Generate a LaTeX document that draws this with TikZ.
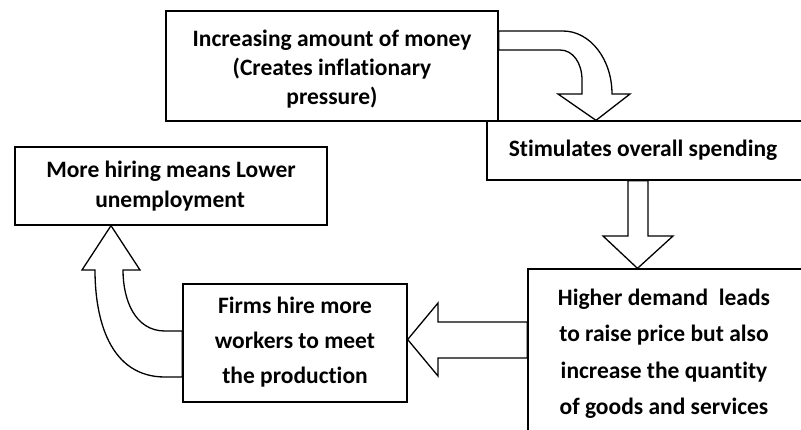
\documentclass[tikz,border=0pt]{standalone}
\usepackage{fontspec}
\setmainfont{Carlito}[Ligatures=NoCommon]
\begin{document}
\begin{tikzpicture}[x=1pt,y=-1pt,
  box/.style={draw, line width=1.3pt, fill=white, align=center, inner sep=0pt, font=\bfseries},
  blockarrow/.style={draw, line width=1.3pt, fill=white, line join=miter}]
\useasboundingbox (0,0) rectangle (801,429);
\clip (0,0) rectangle (801,429);
\fill[white] (0,0) rectangle (801,429);

% boxes
\node[box, minimum width=332pt, minimum height=110pt] (b1) at (332,66) {};
\node[box, minimum width=316pt, minimum height=59pt] (b2) at (645,150.5) {};
\node[box, minimum width=275pt, minimum height=163pt] (b3) at (665.5,350.5) {};
\node[box, minimum width=224pt, minimum height=118pt] (b4) at (295,343) {};
\node[box, minimum width=312pt, minimum height=78pt] (b5) at (171,186) {};

% texts
\tikzset{txt/.style={align=center, inner sep=0pt, font=\bfseries\fontsize{23.5}{#1}\selectfont}}
\node[txt=29] (t1) at ([yshift=-3pt]b1.center) {Increasing amount of money\\(Creates inflationary\\pressure)};
\node[txt=30] (t2) at ([xshift=-2pt]b2.center) {Stimulates overall spending};
\node[txt=36.5] (t3) at ([xshift=-1.5pt,yshift=-3pt]b3.center) {Higher demand\ \ leads\\to raise price but also\\increase the quantity\\of goods and services};
\node[txt=35] (t4) at ([yshift=1pt]b4.center) {Firms hire more\\workers to meet\\the production};
\node[txt=30, align=left] (t5) at (b5.center) {More hiring means Lower\\\hspace*{49pt}unemployment};

% arrow b1 -> b2 (curved)
\path[blockarrow] (b1.east |- 0,31) -- (563,31) .. controls (590,31) and (612,59) .. (612,94)
  -- (630,94) -- (b2.north -| 596,0) -- (558,94) -- (582,94) -- (582,80)
  .. controls (582,63) and (573,50) .. (560,50) -- (b1.east |- 0,50) -- cycle;

% arrow b2 -> b3
\path[blockarrow] (b2.south -| 628,0) -- (628,236) -- (603,236) -- (b3.north -| 637.5,0) -- (673,236) -- (648,236) -- (b2.south -| 648,0) -- cycle;

% arrow b3 -> b4
\path[blockarrow] (b3.west |- 0,322) -- (438,322) -- (438,303) -- (b4.east |- 0,339.5) -- (438,376) -- (438,358) -- (b3.west |- 0,358) -- cycle;

% arrow b4 -> b5 (curved)
\path[blockarrow] (b4.west |- 0,331) -- (165,331) .. controls (135,331) and (123,300) .. (123,270)
  -- (140,270) -- (b5.south -| 111,0) -- (82,270) -- (95,270)
  .. controls (95,320) and (110,377) .. (165,377) -- (b4.west |- 0,377) -- cycle;

% redraw borders on top
\foreach \b in {b1,b2,b3,b4,b5}{
  \draw[line width=1.3pt] (\b.north west) rectangle (\b.south east);
}
\end{tikzpicture}
\end{document}
